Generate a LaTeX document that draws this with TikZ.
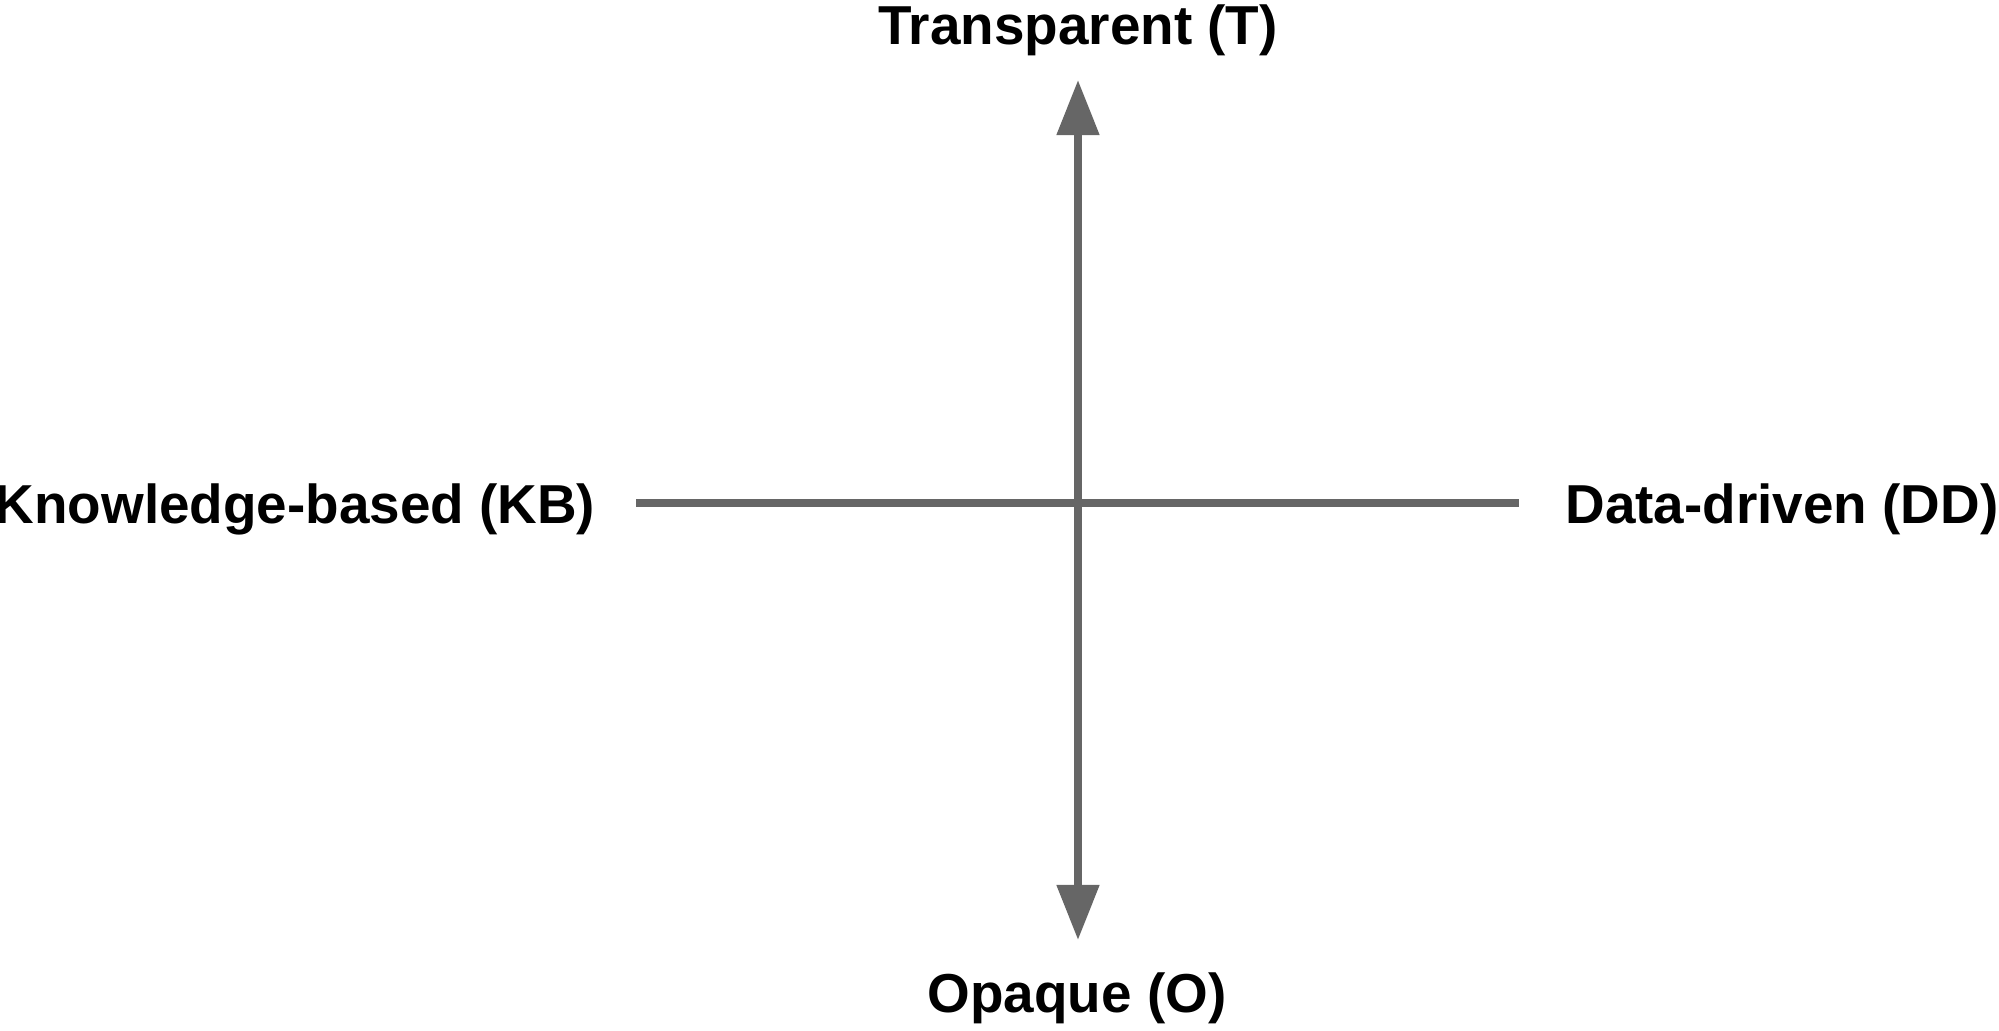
\documentclass[tikz,border=0pt]{standalone}
\usepackage{fontspec}
\setmainfont{Liberation Sans}
\usetikzlibrary{arrows.meta}
\definecolor{axisgray}{HTML}{666666}
\begin{document}
\begin{tikzpicture}[x=0.01cm,y=-0.01cm,
  lbl/.style={font=\fontsize{15.6pt}{18pt}\selectfont\bfseries, inner sep=0pt, anchor=base, text=black},
  axis/.style={draw=axisgray, line width=0.08cm},
  axisarrow/.style={axis, {Triangle[length=0.55cm,width=0.41cm]}-{Triangle[length=0.55cm,width=0.41cm]}}]
\useasboundingbox (0,0) rectangle (1999,1031);
\node[lbl] (T) at (1078,45) {Transparent (T)};
\node[lbl] (O) at (1077,1013) {Opaque (O)};
\node[lbl] (KB) at (295,524) {Knowledge-based (KB)};
\node[lbl] (DD) at (1782,524) {Data-driven (DD)};
\coordinate (top) at (1078,80);
\coordinate (bot) at (1078,940);
\coordinate (left) at (636,503);
\coordinate (right) at (1519,503);
\draw[axis] (left) -- (right);
\draw[axisarrow] (bot) -- (top);
\end{tikzpicture}
\end{document}
